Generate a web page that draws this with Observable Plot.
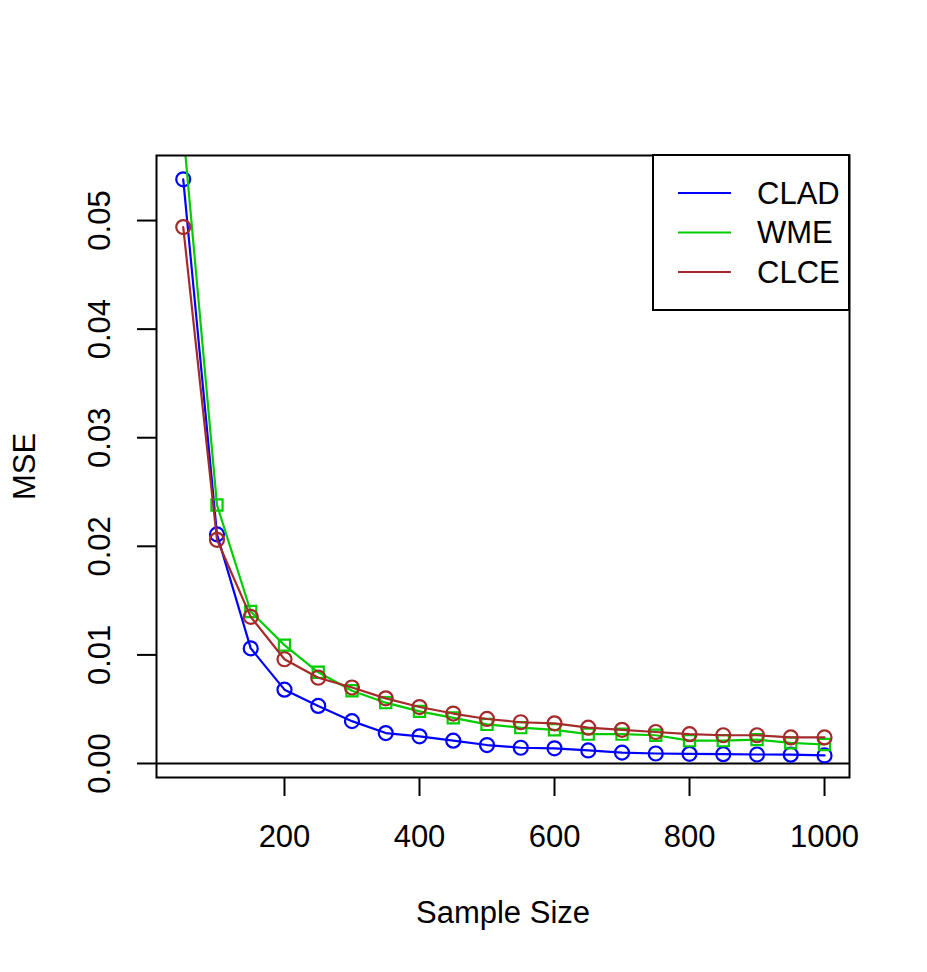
<!DOCTYPE html>
<html>
<head>
<meta charset="utf-8">
<script src="https://cdn.jsdelivr.net/npm/d3@7"></script>
<script src="https://cdn.jsdelivr.net/npm/@observablehq/plot@0.6"></script>
<style>
  html, body { margin: 0; padding: 0; background: #fff; }
  #chart svg { display: block; }
</style>
</head>
<body>
<div id="chart"></div>
<script>
// ---- data ----
const sampleSizes = [50,100,150,200,250,300,350,400,450,500,550,600,650,700,750,800,850,900,950,1000];
const clad = [0.0538,0.0211,0.0106,0.0068,0.0053,0.0039,0.0028,0.0025,0.0021,0.0017,0.00145,0.0014,0.0012,0.0010,0.00092,0.00089,0.00086,0.00083,0.00081,0.00074];
const wme  = [0.0583,0.0238,0.0140,0.0109,0.0084,0.0067,0.0056,0.0048,0.0042,0.0036,0.0033,0.0031,0.0027,0.0027,0.0026,0.0021,0.0021,0.0022,0.0019,0.00175];
const clce = [0.0494,0.0206,0.0135,0.0096,0.0079,0.0070,0.0060,0.0052,0.0046,0.0041,0.0038,0.0037,0.0033,0.0031,0.0029,0.0027,0.0026,0.0026,0.0024,0.0024];
const seriesNames = ["CLAD","WME","CLCE"];
const seriesColors = ["#0000ff","#00cd00","#a52a2a"];
const seriesSymbols = ["circle","square","circle"];
const xTicks = [200,400,600,800,1000];
const yTicks = [0,0.01,0.02,0.03,0.04,0.05];

const seriesValues = [clad, wme, clce];
const rows = [];
seriesNames.forEach((name, i) => {
  sampleSizes.forEach((n, j) => rows.push({series: name, n, mse: seriesValues[i][j]}));
});

const font = "'Liberation Sans', Arial, Helvetica, sans-serif";
const fs = 31;

const marks = [];
seriesNames.forEach((name, i) => {
  const d = rows.filter(r => r.series === name);
  marks.push(Plot.line(d, {x: "n", y: "mse", stroke: seriesColors[i], strokeWidth: 2.2, clip: true}));
  marks.push(Plot.dot(d, {x: "n", y: "mse", stroke: seriesColors[i], fill: "none", strokeWidth: 2.2,
    symbol: seriesSymbols[i], r: seriesSymbols[i] === "square" ? 6.3 : 7, clip: true}));
});

const chart = Plot.plot({
  width: 927,
  height: 972,
  marginLeft: 156,
  marginRight: 78,
  marginTop: 155,
  marginBottom: 195,
  style: {fontFamily: font, fontSize: fs + "px", background: "#fff", overflow: "visible"},
  x: {domain: [10.4, 1037]},
  y: {domain: [-0.00129, 0.05599]},
  marks: [
    Plot.ruleY([0], {stroke: "black", strokeWidth: 2}),
    ...marks,
    Plot.frame({stroke: "black", strokeWidth: 2}),
    Plot.axisX({ticks: xTicks, tickSize: 19, tickPadding: 28, fontSize: fs, strokeWidth: 2, label: null, tickFormat: d => String(d)}),
    Plot.axisY({ticks: yTicks, tickSize: 19, strokeWidth: 2, label: null, tickFormat: () => ""}),
    Plot.text(yTicks, {y: d => d, text: d => d3.format(".2f")(d), frameAnchor: "left", textAnchor: "middle", lineAnchor: "middle", dx: -56, rotate: -90, fontSize: fs, fill: "black"}),
    Plot.text(["Sample Size"], {frameAnchor: "bottom", textAnchor: "middle", lineAnchor: "middle", dy: 136, fontSize: fs, fill: "black"}),
    Plot.text(["MSE"], {frameAnchor: "left", textAnchor: "middle", lineAnchor: "middle", dx: -131, rotate: -90, fontSize: fs, fill: "black"})
  ]
});

document.getElementById("chart").appendChild(chart);

// ---- legend (R-style box, top-right inside the plot frame) ----
const svg = d3.select(chart);
const lg = svg.append("g");
lg.append("rect").attr("x", 653).attr("y", 155).attr("width", 196).attr("height", 155)
  .attr("fill", "white").attr("stroke", "black").attr("stroke-width", 2);
const rowY = [193, 232.5, 272];
seriesNames.forEach((name, i) => {
  lg.append("line").attr("x1", 678).attr("x2", 731).attr("y1", rowY[i]).attr("y2", rowY[i])
    .attr("stroke", seriesColors[i]).attr("stroke-width", 2);
  lg.append("text").attr("x", 757).attr("y", rowY[i]).attr("dy", "0.35em")
    .style("font-size", fs + "px").style("font-family", font).style("text-anchor", "start")
    .attr("fill", "black").text(name);
});
</script>
</body>
</html>
